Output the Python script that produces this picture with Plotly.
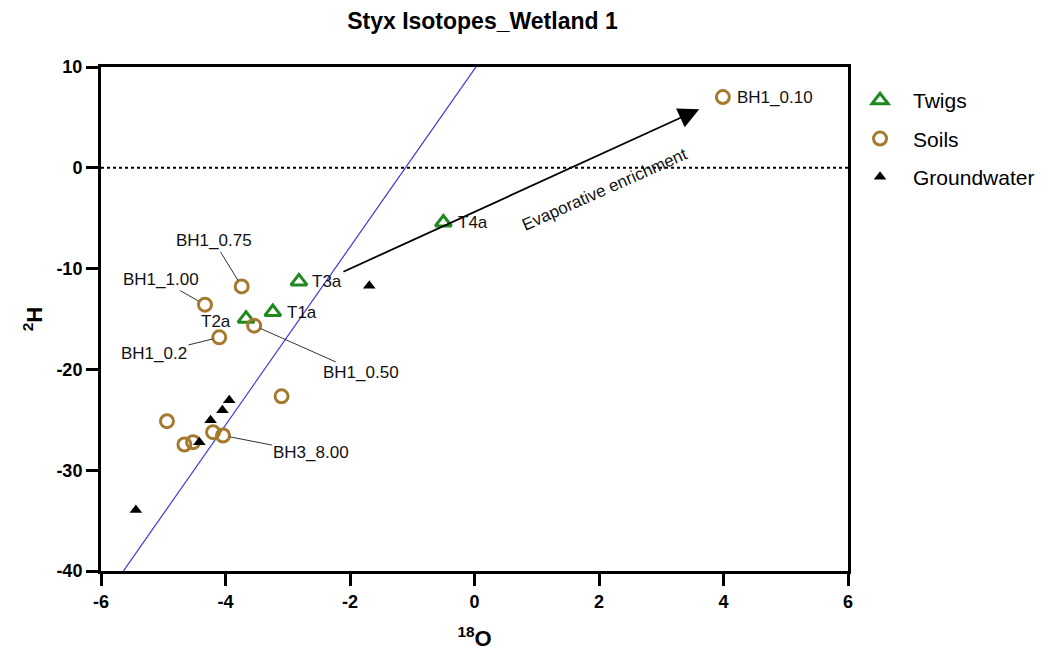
import plotly.graph_objects as go

# ---------------- data ----------------
twig_names = ["T1a", "T2a", "T3a", "T4a"]
twig_o18 = [-3.24, -3.67, -2.82, -0.50]
twig_h2 = [-14.31, -14.97, -11.27, -5.43]

soil_names = ["BH1_0.10", "BH1_0.2", "BH1_0.50", "BH1_0.75", "BH1_1.00", "BH3_8.00",
              "", "", "", "", ""]
soil_o18 = [3.99, -4.10, -3.54, -3.74, -4.33, -4.04, -3.10, -4.94, -4.20, -4.52, -4.66]
soil_h2 = [7.02, -16.82, -15.66, -11.77, -13.58, -26.56, -22.67, -25.14, -26.23, -27.22, -27.45]

gw_o18 = [-1.69, -3.94, -4.05, -4.24, -4.42, -5.44]
gw_h2 = [-11.70, -23.06, -24.05, -25.04, -27.22, -33.96]

# meteoric water line  (d2H = slope * d18O + intercept)
mwl_slope = 8.83
mwl_intercept = 9.8
mwl_x = [-6.0, 0.2]

# evaporative enrichment arrow (tail -> head)
arrow_tail = (-2.13, -10.38)
arrow_head = (3.61, 5.81)

x_ticks = [-6, -4, -2, 0, 2, 4, 6]
y_ticks = [-40, -30, -20, -10, 0, 10]

# ---------------- styles ----------------
GREEN = "#1f8a1f"
BROWN = "#a57a2e"
FONT = "Liberation Sans, Arial, sans-serif"

fig = go.Figure()

# zero reference line
fig.add_trace(go.Scatter(x=[x_ticks[0], x_ticks[-1]], y=[0, 0], mode="lines",
                         line=dict(color="black", width=2, dash="dot"),
                         showlegend=False, hoverinfo="skip"))

# MWL
fig.add_trace(go.Scatter(x=mwl_x, y=[mwl_slope * v + mwl_intercept for v in mwl_x],
                         mode="lines", line=dict(color="#3a3ad6", width=1.2),
                         showlegend=False, hoverinfo="skip"))

fig.add_trace(go.Scatter(x=twig_o18, y=twig_h2, mode="markers", name="Twigs",
                         legendgroup="a",
                         marker=dict(symbol="triangle-up-open", size=14, color=GREEN,
                                     line=dict(color=GREEN, width=3))))
fig.add_trace(go.Scatter(x=soil_o18, y=soil_h2, mode="markers", name="Soils",
                         legendgroup="b",
                         marker=dict(symbol="circle-open", size=13, color=BROWN,
                                     line=dict(color=BROWN, width=3))))
fig.add_trace(go.Scatter(x=gw_o18, y=gw_h2, mode="markers", name="Groundwater",
                         legendgroup="c",
                         marker=dict(symbol="triangle-up", size=11, color="black")))

annotations = []
lab_font = dict(family=FONT, size=17, color="#111")


def idx(names, n):
    return names.index(n)


i010 = idx(soil_names, "BH1_0.10")
plain = [
    (soil_o18[i010], soil_h2[i010], "BH1_0.10", "left", 12, 0),
    (twig_o18[3], twig_h2[3], "T4a", "left", 13, 0),
    (twig_o18[2], twig_h2[2], "T3a", "left", 11, 0),
    (twig_o18[0], twig_h2[0], "T1a", "left", 12, 0),
    (twig_o18[1], twig_h2[1], "T2a", "right", -13, -3),
]
for x, y, t, anc, xs, ys in plain:
    annotations.append(dict(x=x, y=y, text=t, showarrow=False, xanchor=anc,
                            xshift=xs, yshift=ys, font=lab_font))

# leader-line labels: text centre positions in data units
leader_pos = {
    "BH1_0.75": (-4.19, -7.24),
    "BH1_1.00": (-5.04, -11.09),
    "BH1_0.2": (-5.15, -18.42),
    "BH1_0.50": (-1.83, -20.35),
    "BH3_8.00": (-2.62, -28.27),
}
for name, (tx, ty) in leader_pos.items():
    i = idx(soil_names, name)
    annotations.append(dict(x=soil_o18[i], y=soil_h2[i], ax=tx, ay=ty,
                            axref="x", ayref="y", text=name, showarrow=True,
                            arrowhead=0, arrowwidth=1, arrowcolor="#333",
                            standoff=7, font=lab_font))

# evaporative arrow
annotations.append(dict(x=arrow_head[0], y=arrow_head[1], ax=arrow_tail[0], ay=arrow_tail[1],
                        axref="x", ayref="y", text="", showarrow=True,
                        arrowhead=2, arrowsize=2.3, arrowwidth=1.8, arrowcolor="black"))
annotations.append(dict(x=2.09, y=-2.11, text="Evaporative enrichment", showarrow=False,
                        textangle=-24, font=dict(family=FONT, size=17, color="#111")))

fig.update_layout(
    width=1045, height=652,
    margin=dict(l=93, r=205, t=59, b=89, autoexpand=False),
    paper_bgcolor="white", plot_bgcolor="white",
    title=dict(text="<b>Styx Isotopes_Wetland 1</b>", x=0.454, xanchor="center",
               y=0.980, yanchor="middle",
               font=dict(family=FONT, size=23, color="black")),
    font=dict(family=FONT, color="black"),
    legend=dict(x=0.9987, y=0.974, xanchor="left", yanchor="top",
                bgcolor="rgba(0,0,0,0)",
                font=dict(family=FONT, size=21, color="black"),
                tracegroupgap=8, traceorder="grouped", itemwidth=56),
    annotations=annotations,
    showlegend=True,
)
fig.update_xaxes(range=[-6, 6], tickvals=x_ticks, ticktext=[str(v) for v in x_ticks],
                 showgrid=False, zeroline=False, showline=True, mirror=True,
                 linewidth=3, linecolor="black",
                 ticks="outside", ticklen=12, tickwidth=3, tickcolor="black",
                 tickfont=dict(family=FONT, size=18, color="black", weight="bold"),
                 title=dict(text="<b><sup>18</sup>O</b>", font=dict(family=FONT, size=22),
                            standoff=21))
fig.update_yaxes(range=[-40, 10], tickvals=y_ticks, ticktext=[str(v) for v in y_ticks],
                 showgrid=False, zeroline=False, showline=True, mirror=True,
                 linewidth=3, linecolor="black",
                 ticks="outside", ticklen=12, tickwidth=3, tickcolor="black",
                 tickfont=dict(family=FONT, size=18, color="black", weight="bold"),
                 title=dict(text="<b><sup>2</sup>H</b>", font=dict(family=FONT, size=22),
                            standoff=8))

fig.write_html("out.html")
